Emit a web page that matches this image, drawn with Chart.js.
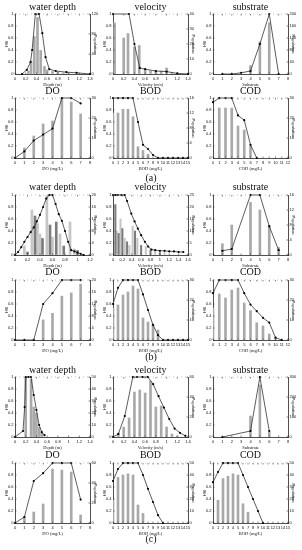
<!DOCTYPE html>
<html>
<head>
<meta charset="utf-8">
<script src="https://cdn.jsdelivr.net/npm/chart.js@4.4.0/dist/chart.umd.min.js"></script>
<style>
body { margin: 0; background: #fff; }
#page { position: relative; width: 302px; height: 550px; overflow: hidden; background: #fff; }
.box { position: absolute; width: 105px; height: 78px; }
.ttl { position: absolute; width: 100px; text-align: center; font-family: 'Liberation Serif', serif; font-size: 10px; line-height: 10px; color: #111; }
</style>
</head>
<body>
<div id="page"></div>
<script>
// tick values
const hsiTicks = [0, 0.2, 0.4, 0.6, 0.8, 1];
const depthTicks = [0, 0.2, 0.4, 0.6, 0.8, 1, 1.2, 1.4];
const depthTicksB = [0, 0.2, 0.4, 0.6, 0.8, 1, 1.2];
const velTicksB = [0, 0.2, 0.4, 0.6, 0.8, 1, 1.2, 1.4, 1.6];
const subTicks = [0, 1, 2, 3, 4, 5, 6, 7, 8];
const doTicks = [0, 1, 2, 3, 4, 5, 6, 7, 8];
const bodTicks = [0, 1, 2, 3, 4, 5, 6, 7, 8, 9, 10, 11, 12, 13, 14, 15];
const codTicks = [0, 1, 2, 3, 4, 5, 6, 7, 8, 9, 10, 11, 12];

// (a)
const aDepthHsiX = [0.13, 0.22, 0.29, 0.32, 0.38, 0.45, 0.51, 0.57, 0.64, 0.76, 0.96, 1.15, 1.4];
const aDepthHsiY = [0, 0.07, 0.2, 0.4, 1, 1, 0.68, 0.28, 0.08, 0.05, 0.03, 0.02, 0];
const aDepthPopX = [0.25, 0.3, 0.36, 0.42, 0.48, 0.55, 0.6, 0.7, 0.8, 0.9, 1.0];
const aDepthPop = [6, 26, 75, 113, 47, 15, 8, 5, 4, 2, 1];
const aDepthPopTicks = [0, 40, 80, 120];

const aVelHsiX = [0, 0.3, 0.4, 0.5, 0.6, 0.8, 1, 1.2, 1.4];
const aVelHsiY = [1, 1, 0.5, 0.1, 0.08, 0.05, 0.04, 0.01, 0];
const aVelPopX = [0.03, 0.2, 0.28, 0.4, 0.49, 0.6, 0.7, 0.8, 0.9, 1.0, 1.1];
const aVelPop = [34, 24, 27, 18, 19, 3, 2, 2, 2, 4, 1];
const aVelPopTicks = [0, 10, 20, 30, 40];

const aSubHsiX = [1, 2, 3, 4, 5, 6, 7];
const aSubHsiY = [0, 0, 0.02, 0.05, 0.5, 1, 0];
const aSubPopX = [4, 5, 6];
const aSubPop = [28, 107, 171];
const aSubPopTicks = [0, 40, 80, 120, 160, 200];

const aDoHsiX = [0, 1, 2, 3, 4, 5, 6, 7];
const aDoHsiY = [0, 0.11, 0.29, 0.39, 0.49, 1, 1, 0.91];
const aDoPopX = [1, 2, 3, 4, 5, 6, 7];
const aDoPop = [5, 11, 17, 18.5, 30, 28, 22];
const aDoPopTicks = [0, 10, 20, 30];

const aBodHsiX = [0, 1, 2, 3, 4, 5, 6, 7, 8, 9, 10, 11, 12, 13, 14, 15];
const aBodHsiY = [1, 1, 1, 1, 1, 0.6, 0.22, 0.15, 0.05, 0, 0, 0, 0, 0, 0, 0];
const aBodPopX = [0, 1, 2, 3, 4, 5, 6, 7];
const aBodPop = [12, 12, 13, 13, 11, 3, 2, 1];
const aBodPopTicks = [0, 4, 8, 12, 16];

const aCodHsiX = [0, 1, 2, 3, 4, 5, 6, 7];
const aCodHsiY = [0.93, 1, 1, 1, 0.71, 0.63, 0.22, 0];
const aCodPopX = [1, 2, 3, 4, 5, 6];
const aCodPop = [25, 25, 25, 16, 14, 6];
const aCodPopTicks = [0, 10, 20, 30];

// (b)
const bDepthHsiX = [0, 0.05, 0.1, 0.15, 0.2, 0.25, 0.3, 0.35, 0.4, 0.45, 0.5, 0.55, 0.6, 0.65, 0.7, 0.75, 0.8, 0.85, 0.9, 0.95, 1, 1.05, 1.1];
const bDepthHsiY = [0, 0.05, 0.13, 0.22, 0.3, 0.38, 0.46, 0.56, 0.67, 0.8, 0.94, 1, 1, 0.85, 0.68, 0.57, 0.4, 0.22, 0.08, 0.06, 0.04, 0.02, 0];
const bDepthDarkX = [0.2, 0.32, 0.44, 0.56, 0.66, 0.78, 1.0];
const bDepthDark = [1, 13, 5.5, 10, 11, 3, 1.5];
const bDepthLightX = [0.15, 0.27, 0.36, 0.4, 0.51, 0.6, 0.72, 0.88, 0.95];
const bDepthLight = [3, 15, 10.5, 7, 20, 6, 7, 11, 2];
const bDepthPopTicks = [0, 4, 8, 12, 16, 20];

const bVelHsiX = [0, 0.05, 0.1, 0.18, 0.25, 0.3, 0.39, 0.46, 0.53, 0.6, 0.68, 0.75, 0.82, 0.9, 1.0, 1.1, 1.2, 1.3, 1.4, 1.5];
const bVelHsiY = [1, 1, 1, 1, 1, 0.9, 0.69, 0.56, 0.44, 0.33, 0.22, 0.14, 0.09, 0.08, 0.07, 0.07, 0.06, 0.06, 0.05, 0.05];
const bVelDarkX = [0.05, 0.12, 0.2, 0.3, 0.47, 0.6, 0.8, 1.0];
const bVelDark = [21, 9, 11, 5.5, 10, 4, 2, 1];
const bVelLightX = [0.08, 0.16, 0.25, 0.35, 0.42, 0.52, 0.7, 0.9, 1.1];
const bVelLight = [10, 15, 7, 4, 12, 7, 3.5, 1.5, 1];
const bVelPopTicks = [0, 5, 10, 15, 20, 25];

const bSubHsiX = [1, 2, 4, 5, 6, 7];
const bSubHsiY = [0.07, 0.1, 1, 1, 0.48, 0.08];
const bSubPopX = [1, 2, 4, 5, 6, 7];
const bSubPop = [3, 8, 14, 12, 7.7, 2];
const bSubPopTicks = [0, 4, 8, 12, 16];

const bDoHsiX = [0, 1, 2, 3, 4, 5, 6, 7];
const bDoHsiY = [0, 0, 0, 0.6, 0.78, 1, 1, 1];
const bDoPopX = [3, 4, 5, 6, 7];
const bDoPop = [6.7, 8.9, 14.6, 15.7, 18.6];
const bDoPopTicks = [0, 4, 8, 12, 16, 20];

const bBodHsiX = [0, 1, 2, 3, 4, 5, 6, 7, 8, 9, 10, 11, 12, 13, 14, 15];
const bBodHsiY = [0.6, 0.87, 1, 1, 1, 1, 0.76, 0.5, 0.25, 0.08, 0, 0, 0, 0, 0, 0];
const bBodPopX = [0, 1, 2, 3, 4, 5, 6, 7, 8, 9];
const bBodPop = [16, 17.5, 22.5, 24, 27, 25.5, 11, 9, 8, 5];
const bBodPopTicks = [0, 10, 20, 30];

const bCodHsiX = [0, 1, 2, 3, 4, 5, 6, 7, 8, 9, 10, 11];
const bCodHsiY = [0.78, 1, 1, 1, 1, 0.78, 0.59, 0.48, 0.37, 0.29, 0.04, 0];
const bCodPopX = [0, 1, 2, 3, 4, 5, 6, 7, 8, 9, 10];
const bCodPop = [16, 23, 21, 25, 26, 18.5, 14.7, 8.6, 7, 3, 1];
const bCodPopTicks = [0, 10, 20, 30];

// (c)
const cDepthHsiX = [0, 0.15, 0.18, 0.2, 0.25, 0.3, 0.35, 0.4, 0.45, 0.5, 0.55];
const cDepthHsiY = [0, 0.1, 0.5, 1, 1, 1, 0.7, 0.45, 0.2, 0.08, 0.03];
const cDepthPopX = [0.2, 0.3, 0.35, 0.4, 0.45, 0.5];
const cDepthPop = [50, 48, 25, 20, 8, 3];
const cDepthPopTicks = [0, 10, 20, 30, 40, 50];

const cVelHsiX = [0, 0.1, 0.22, 0.37, 0.45, 0.55, 0.65, 0.75, 0.85, 0.95, 1.05, 1.15, 1.25, 1.35];
const cVelHsiY = [0, 0.05, 0.35, 1, 1, 1, 1, 0.88, 0.68, 0.49, 0.3, 0.14, 0.07, 0.02];
const cVelPopX = [0.1, 0.2, 0.3, 0.4, 0.5, 0.6, 0.7, 0.8, 0.9, 1.0, 1.1, 1.2];
const cVelPop = [4, 10, 19, 45, 47, 44, 56, 30, 31, 10, 3, 1];
const cVelPopTicks = [0, 20, 40, 60];

const cSubHsiX = [1, 4, 5, 6];
const cSubHsiY = [0, 0.1, 1, 0.1];
const cSubPopX = [4, 5, 6];
const cSubPop = [105, 260, 25];
const cSubPopTicks = [0, 100, 200, 300];

const cDoHsiX = [0, 1, 2, 3, 4, 5, 6, 7];
const cDoHsiY = [0, 0.1, 0.7, 0.83, 1, 1, 1, 0.39];
const cDoPopX = [1, 2, 3, 4, 5, 6, 7];
const cDoPop = [6, 11, 19, 54, 53, 51, 8];
const cDoPopTicks = [0, 20, 40, 60];

const cBodHsiX = [0, 1, 2, 3, 4, 5, 6, 7, 8, 9, 10];
const cBodHsiY = [0.7, 0.9, 1, 1, 1, 1, 0.8, 0.57, 0.35, 0.13, 0];
const cBodPopX = [0, 1, 2, 3, 4, 5, 6];
const cBodPop = [19, 38, 40, 41, 40, 15, 8];
const cBodPopTicks = [0, 10, 20, 30, 40, 50];

const cCodHsiX = [0, 1, 2, 3, 4, 5, 6, 7, 8, 9, 10];
const cCodHsiY = [0.68, 0.85, 1, 1, 1, 1, 0.8, 0.6, 0.4, 0.2, 0];
const cCodPopX = [1, 2, 3, 4, 5, 6, 7];
const cCodPop = [19, 37, 39, 41, 40, 16, 9];
const cCodPopTicks = [0, 10, 20, 30, 40, 50];

// layout
const colLeft = [15, 113, 213];
const rowTop = [14, 98, 195, 280, 377, 463];
const titleTop = [2, 86, 182, 267, 365, 450];
const plotW = 75;

const page = document.getElementById('page');
const tickFont = { family: 'Liberation Sans', size: 4 };
const axisFont = { family: 'Liberation Serif', size: 4.5 };
const barGray = '#a9a9a9';

// dotted top edge and small inward tick marks (matlab look)
const frame = {
    id: 'frame',
    afterDraw(chart) {
        const a = chart.chartArea;
        const ctx = chart.ctx;
        ctx.save();
        ctx.strokeStyle = '#999';
        ctx.lineWidth = 0.6;
        ctx.setLineDash([1, 3]);
        ctx.beginPath();
        ctx.moveTo(a.left, a.top);
        ctx.lineTo(a.right, a.top);
        ctx.stroke();
        ctx.setLineDash([]);
        ctx.strokeStyle = '#333';
        ctx.beginPath();
        const sx = chart.scales.x;
        sx.ticks.forEach(t => {
            const px = sx.getPixelForValue(t.value);
            ctx.moveTo(px, a.bottom);
            ctx.lineTo(px, a.bottom - 1.5);
            ctx.moveTo(px, a.top);
            ctx.lineTo(px, a.top + 1.5);
        });
        const sh = chart.scales.hsi;
        sh.ticks.forEach(t => {
            const py = sh.getPixelForValue(t.value);
            ctx.moveTo(a.left, py);
            ctx.lineTo(a.left + 1.5, py);
        });
        const sp = chart.scales.pop;
        sp.ticks.forEach(t => {
            const py = sp.getPixelForValue(t.value);
            ctx.moveTo(a.right, py);
            ctx.lineTo(a.right - 1.5, py);
        });
        ctx.stroke();
        ctx.restore();
    }
};

function addText(txt, cx, top) {
    const d = document.createElement('div');
    d.className = 'ttl';
    d.textContent = txt;
    d.style.left = (cx - 50) + 'px';
    d.style.top = top + 'px';
    page.appendChild(d);
}

function fixedTicks(arr) {
    return scale => { scale.ticks = arr.map(v => ({ value: v })); };
}

function panel(col, row, title, xTicks, xTitle, popTicks, hsiX, hsiY, bars) {
    const box = document.createElement('div');
    box.className = 'box';
    box.style.left = (colLeft[col] - 15) + 'px';
    box.style.top = (rowTop[row] - 4) + 'px';
    const cv = document.createElement('canvas');
    cv.width = 105;
    cv.height = 78;
    box.appendChild(cv);
    page.appendChild(box);
    addText(title, colLeft[col] + plotW / 2, titleTop[row]);

    const datasets = [{
        type: 'line',
        data: hsiX.map((x, i) => ({ x: x, y: hsiY[i] })),
        yAxisID: 'hsi',
        borderColor: '#333',
        borderWidth: 0.8,
        pointRadius: 1.1,
        pointBackgroundColor: '#000',
        pointBorderWidth: 0,
        tension: 0,
        clip: 4,
        order: 0
    }];
    bars.forEach(b => {
        datasets.push({
            type: 'bar',
            data: b.x.map((x, i) => ({ x: x, y: b.y[i] })),
            yAxisID: 'pop',
            backgroundColor: b.color,
            grouped: false,
            maxBarThickness: 2,
            barPercentage: 1,
            categoryPercentage: 1,
            order: 1
        });
    });

    const axisStyle = {
        grid: { drawOnChartArea: false, drawTicks: false },
        border: { color: '#222', width: 0.8 }
    };

    new Chart(cv, {
        type: 'bar',
        data: { datasets: datasets },
        plugins: [frame],
        options: {
            responsive: false,
            animation: false,
            layout: { padding: { top: 4, left: 0, right: 0, bottom: 0 } },
            plugins: { legend: { display: false }, tooltip: { enabled: false } },
            scales: {
                x: {
                    type: 'linear',
                    offset: false,
                    min: xTicks[0],
                    max: xTicks[xTicks.length - 1],
                    afterBuildTicks: fixedTicks(xTicks),
                    afterFit: s => { s.height = 14; },
                    ticks: { autoSkip: false, maxRotation: 0, font: tickFont, color: '#111', padding: 2, callback: v => String(v) },
                    title: { display: true, text: xTitle, font: axisFont, color: '#111', padding: 0 },
                    ...axisStyle
                },
                hsi: {
                    position: 'left',
                    min: 0,
                    max: 1,
                    afterBuildTicks: fixedTicks(hsiTicks),
                    afterFit: s => { s.width = 15; },
                    ticks: { font: tickFont, color: '#111', padding: 1.5, callback: v => String(v) },
                    title: { display: true, text: 'HSI', font: tickFont, color: '#111', padding: { top: 4, bottom: 0 } },
                    ...axisStyle
                },
                pop: {
                    position: 'right',
                    min: 0,
                    max: popTicks[popTicks.length - 1],
                    afterBuildTicks: fixedTicks(popTicks),
                    afterFit: s => { s.width = 15; },
                    ticks: { font: tickFont, color: '#111', padding: 1.5, callback: v => String(v) },
                    title: { display: true, text: 'Population', font: tickFont, color: '#111', padding: { top: 7, bottom: 0 } },
                    ...axisStyle
                }
            }
        }
    });
}

// (a)
panel(0, 0, 'water depth', depthTicks, 'Depth (m)', aDepthPopTicks, aDepthHsiX, aDepthHsiY, [{ x: aDepthPopX, y: aDepthPop, color: barGray }]);
panel(1, 0, 'velocity', depthTicks, 'Velocity (m/s)', aVelPopTicks, aVelHsiX, aVelHsiY, [{ x: aVelPopX, y: aVelPop, color: barGray }]);
panel(2, 0, 'substrate', subTicks, 'Substrate', aSubPopTicks, aSubHsiX, aSubHsiY, [{ x: aSubPopX, y: aSubPop, color: barGray }]);
panel(0, 1, 'DO', doTicks, 'DO (mg/L)', aDoPopTicks, aDoHsiX, aDoHsiY, [{ x: aDoPopX, y: aDoPop, color: barGray }]);
panel(1, 1, 'BOD', bodTicks, 'BOD (mg/L)', aBodPopTicks, aBodHsiX, aBodHsiY, [{ x: aBodPopX, y: aBodPop, color: barGray }]);
panel(2, 1, 'COD', codTicks, 'COD (mg/L)', aCodPopTicks, aCodHsiX, aCodHsiY, [{ x: aCodPopX, y: aCodPop, color: barGray }]);

// (b)
panel(0, 2, 'water depth', depthTicksB, 'Depth (m)', bDepthPopTicks, bDepthHsiX, bDepthHsiY,
    [{ x: bDepthDarkX, y: bDepthDark, color: '#7c7c7c' }, { x: bDepthLightX, y: bDepthLight, color: '#c6c6c6' }]);
panel(1, 2, 'velocity', velTicksB, 'Velocity (m/s)', bVelPopTicks, bVelHsiX, bVelHsiY,
    [{ x: bVelDarkX, y: bVelDark, color: '#7c7c7c' }, { x: bVelLightX, y: bVelLight, color: '#c6c6c6' }]);
panel(2, 2, 'substrate', subTicks, 'Substrate', bSubPopTicks, bSubHsiX, bSubHsiY, [{ x: bSubPopX, y: bSubPop, color: barGray }]);
panel(0, 3, 'DO', doTicks, 'DO (mg/L)', bDoPopTicks, bDoHsiX, bDoHsiY, [{ x: bDoPopX, y: bDoPop, color: barGray }]);
panel(1, 3, 'BOD', bodTicks, 'BOD (mg/L)', bBodPopTicks, bBodHsiX, bBodHsiY, [{ x: bBodPopX, y: bBodPop, color: barGray }]);
panel(2, 3, 'COD', codTicks, 'COD (mg/L)', bCodPopTicks, bCodHsiX, bCodHsiY, [{ x: bCodPopX, y: bCodPop, color: barGray }]);

// (c)
panel(0, 4, 'water depth', depthTicks, 'Depth (m)', cDepthPopTicks, cDepthHsiX, cDepthHsiY, [{ x: cDepthPopX, y: cDepthPop, color: barGray }]);
panel(1, 4, 'velocity', depthTicks, 'Velocity (m/s)', cVelPopTicks, cVelHsiX, cVelHsiY, [{ x: cVelPopX, y: cVelPop, color: barGray }]);
panel(2, 4, 'substrate', subTicks, 'Substrate', cSubPopTicks, cSubHsiX, cSubHsiY, [{ x: cSubPopX, y: cSubPop, color: barGray }]);
panel(0, 5, 'DO', doTicks, 'DO (mg/L)', cDoPopTicks, cDoHsiX, cDoHsiY, [{ x: cDoPopX, y: cDoPop, color: barGray }]);
panel(1, 5, 'BOD', bodTicks, 'BOD (mg/L)', cBodPopTicks, cBodHsiX, cBodHsiY, [{ x: cBodPopX, y: cBodPop, color: barGray }]);
panel(2, 5, 'COD', bodTicks, 'BOD (mg/L)', cCodPopTicks, cCodHsiX, cCodHsiY, [{ x: cCodPopX, y: cCodPop, color: barGray }]);

// group labels
addText('(a)', 151, 173);
addText('(b)', 151, 352);
addText('(c)', 151, 534);
</script>
</body>
</html>
